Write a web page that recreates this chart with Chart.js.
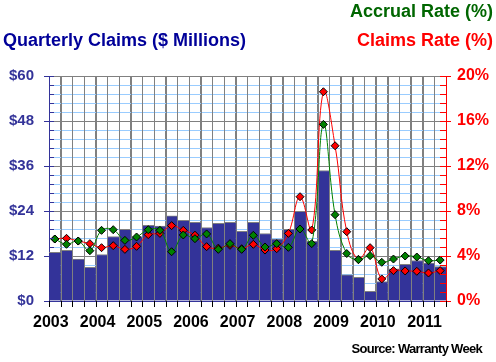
<!DOCTYPE html>
<html><head><meta charset="utf-8">
<script src="https://cdn.jsdelivr.net/npm/chart.js@4"></script>
<style>html,body{margin:0;padding:0;background:#fff}#wrap{width:496px;height:362px;position:relative}</style>
</head><body><div id="wrap"><canvas id="c" width="496" height="362"></canvas></div>
<script>
const categories = ['2003 Q1','2003 Q2','2003 Q3','2003 Q4','2004 Q1','2004 Q2','2004 Q3','2004 Q4',
  '2005 Q1','2005 Q2','2005 Q3','2005 Q4','2006 Q1','2006 Q2','2006 Q3','2006 Q4',
  '2007 Q1','2007 Q2','2007 Q3','2007 Q4','2008 Q1','2008 Q2','2008 Q3','2008 Q4',
  '2009 Q1','2009 Q2','2009 Q3','2009 Q4','2010 Q1','2010 Q2','2010 Q3','2010 Q4',
  '2011 Q1','2011 Q2'];
const yearLabels = ['2003','2004','2005','2006','2007','2008','2009','2010','2011'];
const claims = [13.0,13.5,11.2,9.0,12.4,17.2,19.1,17.2,20.2,20.0,22.7,21.5,21.0,19.6,20.7,21.0,
  18.6,21.0,18.0,16.5,19.1,23.9,15.9,34.8,13.5,7.0,6.3,2.6,5.2,8.6,9.8,10.8,10.1,9.2];
const claimsRate = [5.51,5.57,5.33,5.1,4.74,4.92,4.59,4.86,5.9,6.01,6.7,6.28,5.85,4.83,4.7,4.95,
  4.65,5.04,4.53,4.65,6.01,9.27,6.31,18.6,13.8,6.16,3.7,4.74,1.96,2.7,2.67,2.64,2.49,2.7];
const accrualRate = [5.51,5.04,5.33,4.47,6.28,6.34,5.39,5.69,6.34,6.28,4.38,5.87,5.54,5.96,4.59,5.1,
  4.59,5.84,4.8,5.1,4.77,6.4,5.1,15.7,7.67,4.22,3.67,4.03,3.44,3.73,4.0,3.91,3.58,3.64];
const leftTickLabels = ['$0','$12','$24','$36','$48','$60'];
const rightTickLabels = ['0%','4%','8%','12%','16%','20%'];

const FONT = '"Liberation Sans", Arial, sans-serif';
const leftGrid = Array.from({length:26}, (_, i) => i * 2.4);

function boundaries(xs, n){
  const half = (xs.getPixelForValue(1) - xs.getPixelForValue(0)) / 2;
  const out = [];
  for (let i = 0; i < n; i++) out.push(xs.getPixelForValue(i) - half);
  out.push(xs.getPixelForValue(n - 1) + half);
  return out;
}

const extras = {
  id: 'extras',
  afterDatasetDraw(chart, args){
    if (args.meta.type !== 'bar') return;
    const ctx = chart.ctx, a = chart.chartArea;
    const b = boundaries(chart.scales.x, categories.length);
    ctx.save();
    ctx.strokeStyle = '#808080'; ctx.lineWidth = 1;
    ctx.beginPath();
    b.slice(1, -1).forEach(x => { const px = Math.round(x) + 0.5; ctx.moveTo(px, a.top); ctx.lineTo(px, a.bottom); });
    ctx.stroke();
    ctx.restore();
  },
  afterDraw(chart){
    const ctx = chart.ctx, a = chart.chartArea;
    const ys = chart.scales.y;
    ctx.save();
    ctx.lineWidth = 1;
    ctx.strokeStyle = '#333399'; ctx.beginPath();
    leftGrid.forEach((v, i) => {
      const y = Math.round(ys.getPixelForValue(v)) + 0.5;
      ctx.moveTo(i % 5 === 0 ? a.left - 5 : a.left, y); ctx.lineTo(a.left + 5, y);
    });
    ctx.stroke();
    ctx.strokeStyle = '#FF0000'; ctx.beginPath();
    leftGrid.forEach((v, i) => {
      const y = Math.round(ys.getPixelForValue(v)) + 0.5;
      ctx.moveTo(a.right - 6, y); ctx.lineTo(i % 5 === 0 ? a.right + 5 : a.right, y);
    });
    ctx.stroke();
    ctx.strokeStyle = '#000'; ctx.beginPath();
    boundaries(chart.scales.x, categories.length).forEach(x => {
      const px = Math.round(x) + 0.5; ctx.moveTo(px, a.bottom); ctx.lineTo(px, a.bottom + 6);
    });
    ctx.stroke();
    ctx.font = 'bold 18px ' + FONT;
    ctx.textBaseline = 'alphabetic';
    ctx.textAlign = 'right'; ctx.fillStyle = '#006600';
    ctx.fillText('Accrual Rate (%)', 493, 17);
    ctx.fillStyle = '#FF0000';
    ctx.fillText('Claims Rate (%)', 493, 46);
    ctx.textAlign = 'left'; ctx.fillStyle = '#000099';
    ctx.fillText('Quarterly Claims ($ Millions)', 3, 46);
    ctx.font = 'bold 13px ' + FONT;
    ctx.letterSpacing = '-0.7px';
    ctx.textAlign = 'right'; ctx.fillStyle = '#000';
    ctx.fillText('Source: Warranty Week', 482, 353);
    ctx.restore();
  }
};

new Chart(document.getElementById('c'), {
  type: 'bar',
  data: {
    labels: categories,
    datasets: [
      {type:'line', label:'Accrual Rate', data: accrualRate, yAxisID:'y1', borderColor:'#008000', borderWidth:1,
       pointStyle:'rectRot', pointRadius:4, pointBackgroundColor:'#008000', pointBorderColor:'#000', pointBorderWidth:1,
       tension:0.4, order:1},
      {type:'line', label:'Claims Rate', data: claimsRate, yAxisID:'y1', borderColor:'#FF0000', borderWidth:1,
       pointStyle:'rectRot', pointRadius:4, pointBackgroundColor:'#FF0000', pointBorderColor:'#000', pointBorderWidth:1,
       tension:0.4, order:2},
      {type:'bar', label:'Quarterly Claims', data: claims, yAxisID:'y', backgroundColor:'#333399',
       borderColor:'#808080', borderWidth:{top:1,left:0,right:0,bottom:0}, borderSkipped:false,
       categoryPercentage:1, barPercentage:1, order:3}
    ]
  },
  options: {
    responsive:false, animation:false,
    layout:{padding:{top:76,left:0,right:0,bottom:0}},
    plugins:{legend:{display:false}, tooltip:{enabled:false}, title:{display:false}},
    scales:{
      x:{type:'category', offset:true,
         grid:{display:true, offset:true, color:'#808080', drawTicks:false},
         border:{display:true, color:'#333399', width:1},
         ticks:{autoSkip:false, maxRotation:0, minRotation:0, padding:12, labelOffset:-4, color:'#000',
                font:{family:FONT, weight:'bold', size:16},
                callback:(v, i) => i % 4 === 0 ? yearLabels[i / 4] : ''},
         afterFit:s => { s.height = 61; }},
      y:{position:'left', min:0, max:60,
         afterBuildTicks:s => { s.ticks = leftGrid.map(v => ({value:v})); },
         grid:{drawTicks:false, color:c => (c.index % 5 === 0 ? '#808080' : '#99CCFF')},
         border:{display:true, color:'#333399', width:1},
         ticks:{autoSkip:false, padding:15, color:'#333399', font:{family:FONT, weight:'bold', size:15},
                callback:(v, i) => i % 5 === 0 ? leftTickLabels[i / 5] : ''},
         afterFit:s => { s.width = 49; }},
      y1:{position:'right', min:0, max:20,
         afterBuildTicks:s => { s.ticks = [0,4,8,12,16,20].map(v => ({value:v})); },
         grid:{drawOnChartArea:false, drawTicks:false},
         border:{display:true, color:'#FF0000', width:1},
         ticks:{autoSkip:false, padding:11, color:'#FF0000', font:{family:FONT, weight:'bold', size:16},
                callback:(v, i) => rightTickLabels[i]},
         afterFit:s => { s.width = 50; }}
    }
  },
  plugins:[extras]
});
</script></body></html>
